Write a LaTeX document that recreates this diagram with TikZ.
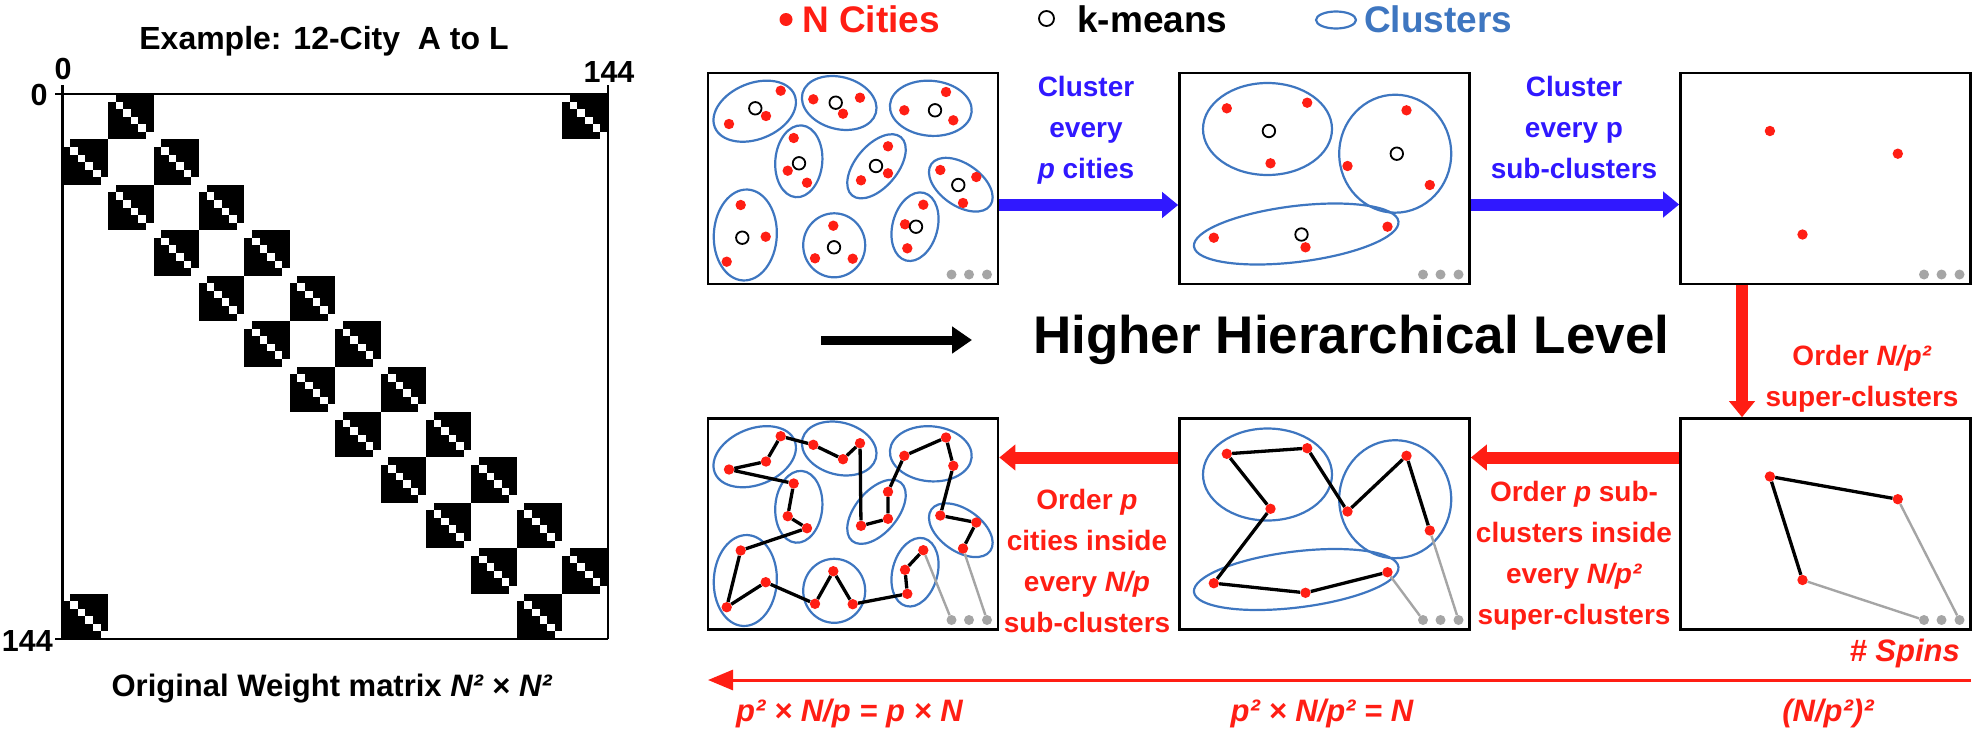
\documentclass[tikz,border=0pt]{standalone}
\usepackage{fontspec}
\setmainfont{Liberation Sans}
\usetikzlibrary{arrows.meta,shapes.geometric}

\definecolor{cityred}{RGB}{255,30,20}
\definecolor{clusblue}{RGB}{62,118,192}
\definecolor{stepblue}{RGB}{48,24,255}
\definecolor{moregray}{RGB}{165,165,165}

\newcommand{\clusone}{a/46.7/38.2/43/28/22, b/131.2/30/38/26/-15, c/222.8/35.3/41/27.5/-5,
  d/90.8/88.3/23.5/36/-5, e/168.5/93.3/38/21/50, f/252.8/111.7/36/21/-35,
  g/37.3/162/31.5/45.5/-3, h/126.2/172.3/31/32/0, i/207/153.7/22.5/35/-15}
\newcommand{\clustwo}{A/88/56/64.5/46/0, B/215.7/80.7/56/59/0, C/116.7/161/103/28/7}
\newcommand{\cityone}{a1/72.7/17.7, a2/58/43, a3/21/51, b1/105.3/26.3, b2/152/24.7, b3/135/40.7,
  c1/238/19, c2/196.3/37.3, c3/245.3/47.3, d1/85.7/65, d2/79.7/97.7, d3/99/109.7,
  e1/180/73.3, e2/180/100.3, e3/153/107.3, f1/232.3/97, f2/268.3/104, f3/255/130,
  g1/32.7/132, g2/57.7/163.7, g3/18.7/188.7, h1/125.3/152.7, h2/107/185.3, h3/144.7/185.7,
  i1/215.3/131.7, i2/197/151.3, i3/199.3/175.3}
\newcommand{\meanone}{a/47.3/35.3, b/127.7/29.7, c/227/37.3, d/91/90.3, e/168/93,
  f/250.3/112, g/34.3/164.7, h/126/174.3, i/208/153.7}
\newcommand{\meantwo}{A/89.4/58, B/217.3/80.7, C/122/161.5}

\begin{document}
\begin{tikzpicture}[x=1pt,y=-1pt,
  city/.style={circle,fill=cityred,inner sep=0pt,minimum size=10.4pt},
  kmean/.style={circle,draw=black,line width=1.8pt,inner sep=0pt,minimum size=12.5pt},
  more/.style={circle,fill=moregray,inner sep=0pt,minimum size=10pt},
  panel/.style={draw,line width=2.6pt,inner sep=0pt,minimum width=290pt,minimum height=211pt},
  clus/.style={draw=clusblue,line width=2.2pt},
  tour/.style={line width=3.3pt},
  tail/.style={moregray,line width=2.4pt},
  bluearrow/.style={stepblue,line width=12pt,-{Triangle[length=16pt,width=25pt]}},
  redarrow/.style={cityred,line width=12pt,-{Triangle[length=16pt,width=25pt]}},
  lab/.style={font=\bfseries\fontsize{28}{41}\selectfont,align=center,inner sep=0pt,anchor=north},
  leg/.style={font=\bfseries\fontsize{37}{44}\selectfont,inner sep=0pt,anchor=base west},
  spin/.style={font=\bfseries\itshape\fontsize{31}{36}\selectfont,text=cityred,inner sep=0pt},
  axis/.style={font=\bfseries\fontsize{30.5}{36}\selectfont,inner sep=0pt}]
\useasboundingbox (0,0) rectangle (1975,728);

\node[font=\bfseries\fontsize{32}{38}\selectfont,inner sep=0pt,anchor=base] (title) at (324,49) {Example: 12-City~~A to L};
\begin{scope}[shift={(62.7,94)}]
\foreach \r in {0,...,11}{
  \pgfmathtruncatemacro{\colA}{mod(\r+1,12)}
  \pgfmathtruncatemacro{\colB}{mod(\r+11,12)}
  \foreach \c in {\colA,\colB}{
    \fill (\c*45.42,\r*45.42) rectangle ++(45.42,45.42);
    \foreach \k in {0,...,5}
      \fill[white] (\c*45.42+\k*7.57,\r*45.42+\k*7.57) rectangle ++(7.57,7.57);
  }
}
\end{scope}
\draw[line width=2.5pt] (55,94) -- (608,94);
\draw[line width=2.5pt] (62.7,85) -- (62.7,639);
\draw[line width=2pt] (608,85) -- (608,639);
\draw[line width=2pt] (55,639) -- (608,639);
\node[axis,anchor=base] (topzero) at (63,79) {0};
\node[axis,anchor=base] (leftzero) at (39,105) {0};
\node[axis,anchor=base] (topmax) at (609,82) {144};
\node[axis,anchor=base east] (leftmax) at (53,651) {144};
\node[font=\bfseries\fontsize{31}{36}\selectfont,inner sep=0pt,anchor=base] (caption) at (332,696)
  {Original Weight matrix \textit{N²} × \textit{N²}};

\node[city,minimum size=13pt] (legcity) at (786,19.5) {};
\node[leg,text=cityred] (legcitytxt) at (802,32) {N Cities};
\node[kmean,minimum size=15pt] (legmean) at (1046.5,18.5) {};
\node[leg] (legmeantxt) at (1077,32) {k-means};
\node[ellipse,draw=clusblue,line width=2.2pt,inner sep=0pt,minimum width=40pt,minimum height=17pt] (legclus) at (1336,20) {};
\node[leg,text=clusblue] (legclustxt) at (1364,32) {Clusters};

\node[panel] (U1) at (853,178.5) {};
\node[panel] (U2) at (1324.5,178.5) {};
\node[panel] (U3) at (1825.5,178.5) {};
\node[panel] (L1) at (853,524) {};
\node[panel] (L2) at (1324.5,524) {};
\node[panel] (L3) at (1825.5,524) {};

\begin{scope}[shift={(708,73)}]
\foreach \n/\x/\y/\ra/\rb/\r in \clusone
  \draw[clus,rotate around={\r:(\x,\y)}] (\x,\y) ellipse [x radius=\ra,y radius=\rb];
\foreach \n/\x/\y in \cityone \node[city] (U1\n) at (\x,\y) {};
\foreach \n/\x/\y in \meanone \node[kmean] (U1k\n) at (\x,\y) {};
\foreach \i/\x in {1/243.5,2/261,3/279} \node[more] (U1m\i) at (\x,201.5) {};
\end{scope}
\begin{scope}[shift={(1179.5,73)}]
\foreach \n/\x/\y/\ra/\rb/\r in \clustwo
  \draw[clus,rotate around={\r:(\x,\y)}] (\x,\y) ellipse [x radius=\ra,y radius=\rb];
\foreach \n/\x/\y in \meanone \node[city] (U2\n) at (\x,\y) {};
\foreach \n/\x/\y in \meantwo \node[kmean] (U2k\n) at (\x,\y) {};
\foreach \i/\x in {1/243.5,2/261,3/279} \node[more] (U2m\i) at (\x,201.5) {};
\end{scope}
\begin{scope}[shift={(1680.5,73)}]
\foreach \n/\x/\y in \meantwo \node[city] (U3\n) at (\x,\y) {};
\foreach \i/\x in {1/243.5,2/261,3/279} \node[more] (U3m\i) at (\x,201.5) {};
\end{scope}

\begin{scope}[shift={(708,418.5)}]
\foreach \n/\x/\y/\ra/\rb/\r in \clusone
  \draw[clus,rotate around={\r:(\x,\y)}] (\x,\y) ellipse [x radius=\ra,y radius=\rb];
\foreach \n/\x/\y in \cityone \node[city] (L1\n) at (\x,\y) {};
\foreach \i/\x in {1/243.5,2/261,3/279} \node[more] (L1m\i) at (\x,201.5) {};
\end{scope}
\draw[tour] (L1i1) -- (L1i2) -- (L1i3) -- (L1h3) -- (L1h1) -- (L1h2) -- (L1g2) -- (L1g3) -- (L1g1)
  -- (L1d3) -- (L1d2) -- (L1d1) -- (L1a3) -- (L1a2) -- (L1a1) -- (L1b1) -- (L1b3) -- (L1b2)
  -- (L1e3) -- (L1e2) -- (L1e1) -- (L1c2) -- (L1c1) -- (L1c3) -- (L1f1) -- (L1f2) -- (L1f3);
\draw[tail] (L1i1) -- (L1m1);
\draw[tail] (L1f3) -- (L1m3);

\begin{scope}[shift={(1179.5,418.5)}]
\foreach \n/\x/\y/\ra/\rb/\r in \clustwo
  \draw[clus,rotate around={\r:(\x,\y)}] (\x,\y) ellipse [x radius=\ra,y radius=\rb];
\foreach \n/\x/\y in \meanone \node[city] (L2\n) at (\x,\y) {};
\foreach \i/\x in {1/243.5,2/261,3/279} \node[more] (L2m\i) at (\x,201.5) {};
\end{scope}
\draw[tour] (L2i) -- (L2h) -- (L2g) -- (L2d) -- (L2a) -- (L2b) -- (L2e) -- (L2c) -- (L2f);
\draw[tail] (L2i) -- (L2m1);
\draw[tail] (L2f) -- (L2m3);

\begin{scope}[shift={(1680.5,418.5)}]
\foreach \n/\x/\y in \meantwo \node[city] (L3\n) at (\x,\y) {};
\foreach \i/\x in {1/243.5,2/261,3/279} \node[more] (L3m\i) at (\x,201.5) {};
\end{scope}
\draw[tour] (L3C) -- (L3A) -- (L3B);
\draw[tail] (L3C) -- (L3m1);
\draw[tail] (L3B) -- (L3m3);

\draw[bluearrow] ([yshift=-26.5pt]U1.east) -- ([yshift=-26.5pt]U2.west);
\draw[bluearrow] ([yshift=-26pt]U2.east) -- ([yshift=-26pt]U3.west);
\draw[redarrow] ([xshift=-83.5pt]U3.south) -- ([xshift=-83.5pt]L3.north);
\draw[redarrow] ([yshift=66.5pt]L3.west) -- ([yshift=66.5pt]L2.east);
\draw[redarrow] ([yshift=66.5pt]L2.west) -- ([yshift=66.5pt]L1.east);

\node[lab,text=stepblue] (step1) at (1086,76.5) {Cluster\\every\\\textit{p} cities};
\node[lab,text=stepblue] (step2) at (1574,76.5) {Cluster\\every p\\sub-clusters};
\node[lab,text=cityred] (order1) at (1862,345.5) {Order \textit{N/p²}\\super-clusters};
\node[lab,text=cityred] (order2) at (1574,481.5) {Order \textit{p} sub-\\clusters inside\\every \textit{N/p²}\\super-clusters};
\node[lab,text=cityred] (order3) at (1087,489.5) {Order \textit{p}\\cities inside\\every \textit{N/p}\\sub-clusters};

\coordinate (levA) at (821,340);
\coordinate (levB) at (972,340);
\draw[line width=9pt,-{Triangle[length=20pt,width=26pt]}] (levA) -- (levB);
\node[font=\bfseries\fontsize{53}{60}\selectfont,inner sep=0pt,anchor=west] (level) at (1033,340) {Higher Hierarchical Level};

\node[spin,anchor=base east] (spins) at (1960,661) {\# Spins};
\coordinate (spinR) at (1971,680);
\coordinate (spinL) at (708,680);
\draw[cityred,line width=3pt,-{Triangle[length=25pt,width=20pt]}] (spinR) -- (spinL);
\node[spin,anchor=base west] (spin1) at (736,721) {p² × N/p = p × N};
\node[spin,anchor=base] (spin2) at (1322,721) {p² × N/p² = N};
\node[spin,anchor=base] (spin3) at (1828,721) {(N/p²)²};
\end{tikzpicture}
\end{document}
